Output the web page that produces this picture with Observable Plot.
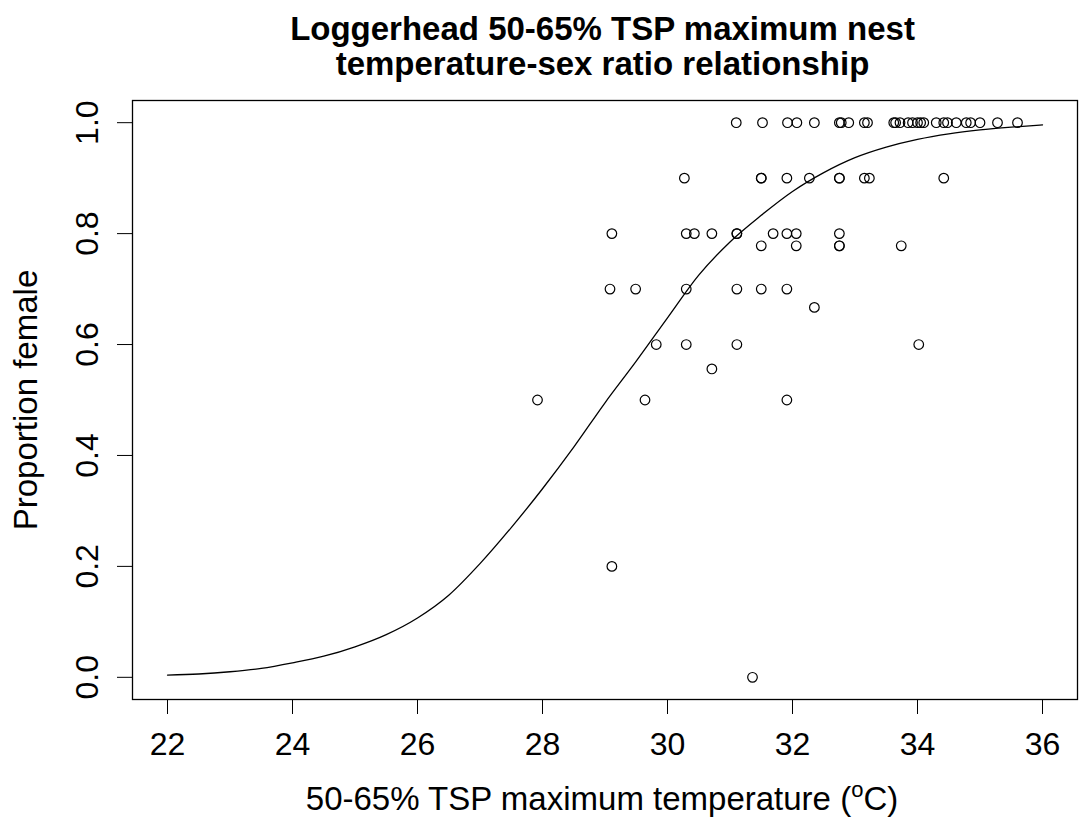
<!DOCTYPE html>
<html>
<head>
<meta charset="utf-8">
<script src="https://cdn.jsdelivr.net/npm/d3@7"></script>
<script src="https://cdn.jsdelivr.net/npm/@observablehq/plot@0.6"></script>
<style>
  html, body { margin: 0; padding: 0; background: #fff; }
  #wrap { position: relative; width: 1079px; height: 823px; font-family: "Liberation Sans", Arial, sans-serif; color: #000; }
  #xlab { position: absolute; top: 782px; left: 602px; transform: translateX(-50%); white-space: nowrap;
          font-size: 33px; line-height: 33px; }
  #xlab .sup { position: relative; top: -13px; font-size: 22px; }
</style>
</head>
<body>
<div id="wrap">
  <div id="chart"></div>
  <div id="xlab">50-65% TSP maximum temperature (<span class="sup">o</span>C)</div>
</div>
<script>
// ---- Data ----
const titleLines = ["Loggerhead 50-65% TSP maximum nest", "temperature-sex ratio relationship"];
const yLabel = "Proportion female";

const xTicks = [22, 24, 26, 28, 30, 32, 34, 36];
const yTicks = [0, 0.2, 0.4, 0.6, 0.8, 1.0];

// observed nests: 50-65% TSP maximum temperature and proportion female
const nestTemp = [
  // proportion 1.0
  31.10, 31.52, 31.92, 32.07, 32.35, 32.75, 32.78, 32.90, 33.15, 33.20,
  33.62, 33.65, 33.72, 33.85, 33.92, 34.00, 34.05, 34.10, 34.30, 34.42,
  34.48, 34.62, 34.78, 34.85, 35.00, 35.28, 35.60,
  // 0.9
  30.27, 31.50, 31.50, 31.91, 32.27, 32.75, 32.75, 33.15, 33.23, 34.42,
  // 0.8
  29.11, 30.30, 30.43, 30.71, 31.11, 31.11, 31.69, 31.91, 32.06, 32.75,
  // 0.778
  31.50, 32.06, 32.75, 32.75, 33.74,
  // 0.7
  29.08, 29.49, 30.30, 31.11, 31.50, 31.91,
  // 0.667
  32.35,
  // 0.6
  29.82, 30.30, 31.11, 34.02,
  // 0.556
  30.71,
  // 0.5
  27.92, 29.64, 31.91,
  // 0.2
  29.11,
  // 0.0
  31.36
];
const propFemale = [
  1,1,1,1,1,1,1,1,1,1, 1,1,1,1,1,1,1,1,1,1, 1,1,1,1,1,1,1,
  0.9,0.9,0.9,0.9,0.9,0.9,0.9,0.9,0.9,0.9,
  0.8,0.8,0.8,0.8,0.8,0.8,0.8,0.8,0.8,0.8,
  0.778,0.778,0.778,0.778,0.778,
  0.7,0.7,0.7,0.7,0.7,0.7,
  0.667,
  0.6,0.6,0.6,0.6,
  0.556,
  0.5,0.5,0.5,
  0.2,
  0.0
];

// fitted curve
const curveTemp = [22, 22.5, 23, 23.5, 24, 24.5, 25, 25.5, 26, 26.5, 27, 27.5, 28, 28.5, 29,
                   29.5, 30, 30.5, 31, 31.5, 32, 32.5, 33, 33.5, 34, 34.5, 35, 35.5, 36];
const curveFemale = [0.004, 0.006, 0.010, 0.016, 0.026, 0.038, 0.055, 0.077, 0.107, 0.148, 0.205,
                     0.270, 0.340, 0.415, 0.495, 0.570, 0.648, 0.725, 0.785, 0.833, 0.876, 0.910,
                     0.937, 0.956, 0.970, 0.980, 0.987, 0.992, 0.996];

// ---- Build tables ----
const points = nestTemp.map((t, i) => ({t, p: propFemale[i]}));
const curve = curveTemp.map((t, i) => ({t, p: curveFemale[i]}));

const font = "Liberation Sans, Arial, sans-serif";

const chart = Plot.plot({
  width: 1079,
  height: 823,
  marginTop: 100,
  marginBottom: 124,
  marginLeft: 132,
  marginRight: 2,
  style: {fontFamily: font, background: "white", color: "black"},
  x: {domain: [21.44, 36.56]},
  y: {domain: [-0.04, 1.04]},
  marks: [
    Plot.axisX(xTicks, {tickSize: 15, tickPadding: 18, fontSize: 32, label: null, strokeWidth: 1}),
    Plot.axisY(yTicks, {tickSize: 15, tickPadding: 20, tickRotate: -90, fontSize: 32,
                        tickFormat: d3.format(".1f"), label: null, strokeWidth: 1}),
    Plot.line(curve, {x: "t", y: "p", stroke: "black", strokeWidth: 1.3, curve: "monotone-x"}),
    Plot.dot(points, {x: "t", y: "p", r: 4.8, stroke: "black", strokeWidth: 1.2, fill: "none"}),
    Plot.frame({stroke: "black", strokeWidth: 1.3}),
    Plot.text([yLabel], {frameAnchor: "left", dx: -119, rotate: -90, lineAnchor: "top",
                         textAnchor: "middle", fontSize: 33, fill: "black"}),
    Plot.text([titleLines[0]], {frameAnchor: "top", dx: -2.5, dy: -61, lineAnchor: "bottom",
                                textAnchor: "middle", fontSize: 33, fontWeight: "bold", fill: "black"}),
    Plot.text([titleLines[1]], {frameAnchor: "top", dx: -2.5, dy: -26, lineAnchor: "bottom",
                                textAnchor: "middle", fontSize: 33, fontWeight: "bold", fill: "black"})
  ]
});
document.getElementById("chart").appendChild(chart);
</script>
</body>
</html>
